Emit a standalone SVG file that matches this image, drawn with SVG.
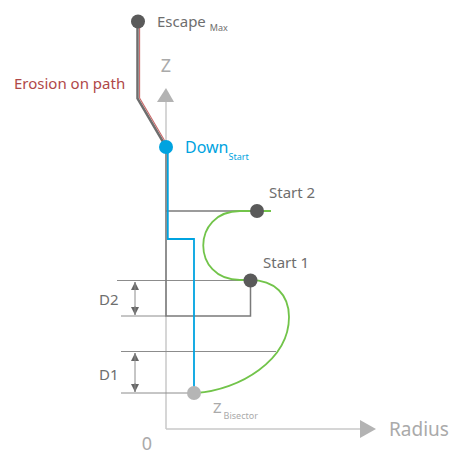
<svg xmlns="http://www.w3.org/2000/svg" width="468" height="464" viewBox="0 0 468 464">
<defs>
<style>
text{font-family:"Noto Sans","DejaVu Sans",sans-serif}
.lbl{fill:#6e6e6e;font-size:15px}
.sub{font-size:9px}
.axis{stroke:#c8c8c8;stroke-width:1.5;fill:none}
.ah{fill:#b3b3b3}
.dim{stroke:#8c8c8c;stroke-width:1;fill:none}
.dimv{stroke:#8c8c8c;stroke-width:1;fill:none}
.grey{stroke:#7a7a7a;stroke-width:1.5;fill:none}
.blue{stroke:#00a3e0;stroke-width:1.8;fill:none}
.green{stroke:#72c44a;stroke-width:1.8;fill:none}
.dot{fill:#5a5a5a}
</style>
<marker id="da" viewBox="0 0 10 10" refX="10" refY="5" markerWidth="8" markerHeight="8" markerUnits="userSpaceOnUse" orient="auto">
<path d="M0,0 L10,5 L0,10 Z" fill="#666"/>
</marker>
</defs>
<rect width="468" height="464" fill="#fff"/>

<g id="axes">
<line class="axis" x1="166" y1="102" x2="166" y2="429"/>
<line class="axis" x1="166" y1="429" x2="360" y2="429"/>
<polygon class="ah" points="157,102 174,102 166,88"/>
<polygon class="ah" points="360,420 360,438 376,429"/>
<text x="166" y="72" text-anchor="middle" fill="#aaa" font-size="18">Z</text>
<text x="389" y="436" fill="#aaa" font-size="19">Radius</text>
<text x="147" y="450" text-anchor="middle" fill="#aaa" font-size="18">0</text>
</g>

<g id="connectors">
<line class="dim" x1="117" y1="280.5" x2="250" y2="280.5"/>
<line class="dim" x1="121" y1="316" x2="166" y2="316"/>
<line class="dim" x1="121" y1="351.5" x2="276" y2="351.5"/>
<line class="dim" x1="121" y1="393" x2="194" y2="393"/>
<line class="dimv" x1="135" y1="290" x2="135" y2="282" marker-end="url(#da)"/>
<line class="dimv" x1="135" y1="306" x2="135" y2="315" marker-end="url(#da)"/>
<line class="dimv" x1="135" y1="282" x2="135" y2="315"/>
<line class="dimv" x1="135" y1="361" x2="135" y2="353" marker-end="url(#da)"/>
<line class="dimv" x1="135" y1="383" x2="135" y2="392" marker-end="url(#da)"/>
<line class="dimv" x1="135" y1="353" x2="135" y2="392"/>
<path class="grey" d="M166,147 V316 H250.5 V280"/>
<line class="grey" x1="166" y1="211" x2="257" y2="211"/>
<path class="blue" d="M167.8,150 V239 H194 V393"/>
<path d="M137.5,22 V98.5 L165.5,146" fill="none" stroke="#6e6e6e" stroke-width="2.5"/>
<path d="M139.6,22 V98 L167.2,145" fill="none" stroke="#c86a6a" stroke-width="1.1"/>
<path class="green" d="M271,211 H240 C191,211 191,280 240,280 H250 C275,280 289,295 289,317 C289,360 240,390 196,393"/>
</g>

<g id="escape-max">
<circle class="dot" cx="138" cy="21.5" r="7"/>
<text class="lbl" x="157" y="27" font-size="16">Escape <tspan class="sub" dy="4">Max</tspan></text>
</g>

<g id="erosion-label">
<text x="14" y="89" fill="#b04848" font-size="15">Erosion on path</text>
</g>

<g id="down-start">
<circle cx="166" cy="147" r="7" fill="#00a3e0"/>
<text x="185" y="153" fill="#00a3e0" font-size="16">Down<tspan class="sub" dy="7">Start</tspan></text>
</g>

<g id="start2">
<circle class="dot" cx="257" cy="211" r="7"/>
<text class="lbl" x="269" y="198">Start 2</text>
</g>

<g id="start1">
<circle class="dot" cx="250.5" cy="280.5" r="7"/>
<text class="lbl" x="263" y="268">Start 1</text>
</g>

<g id="z-bisector">
<circle cx="194" cy="393" r="7" fill="#b5b5b5"/>
<text x="213" y="413" fill="#aaa" font-size="15">Z<tspan font-size="9" dy="6" dx="2">Bisector</tspan></text>
</g>

<g id="d-labels">
<text class="lbl" x="99" y="305" font-size="16">D2</text>
<text class="lbl" x="99" y="380" font-size="16">D1</text>
</g>
</svg>
